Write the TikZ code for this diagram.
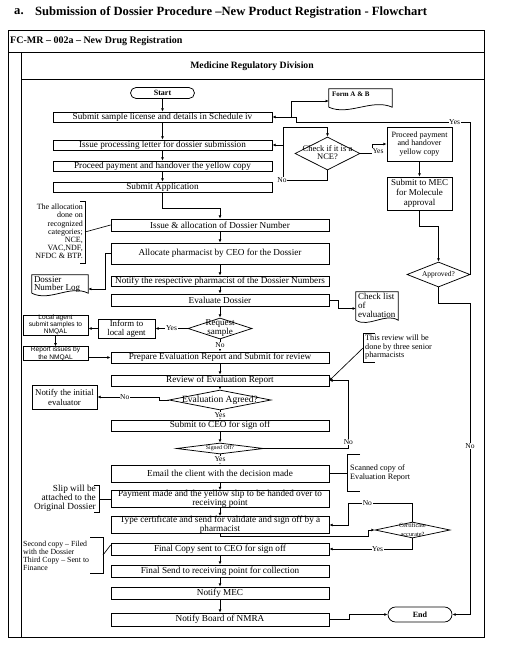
\documentclass[tikz,border=0pt]{standalone}
\usepackage{fontspec}
\setmainfont{Liberation Serif}
\newfontfamily\arialf{Liberation Sans}
\usetikzlibrary{shapes.geometric,shapes.misc,arrows.meta}
\newcommand\fs[2]{\fontsize{#1}{#2}\selectfont}
\newcommand\dtext[2]{\makebox[0pt]{#1\raisebox{-0.25em}[0pt][0pt]{\begin{tabular}{@{}c@{}}#2\end{tabular}}}}
\begin{document}
\begin{tikzpicture}[x=1pt,y=-1pt,
  line/.style={line width=0.75pt, black},
  frame/.style={line width=0.9pt, black},
  arr/.style={line width=0.65pt, black, -{Latex[length=3.2pt,width=2.8pt]}},
  conn/.style={line width=0.65pt, black},
  box/.style={draw, line width=0.75pt, inner sep=0pt, align=center, font=\fs{9.2}{8.6}},
  ubox/.style={box, minimum width=219pt},
  lbox/.style={box, minimum width=218pt},
  term/.style={draw, rounded rectangle, line width=0.75pt, inner sep=0pt, font=\bfseries\fs{8}{9}},
  dia/.style={draw, diamond, line width=0.75pt, inner sep=0pt},
  docbox/.style={inner sep=0pt},
  lbl/.style={fill=white, inner sep=0.6pt, font=\fs{7.5}{8}},
  note/.style={inner sep=0pt, font=\fs{8.2}{8.5}}
]
\useasboundingbox (0,0) rectangle (516,653);
% title and frames
\node[anchor=west, inner sep=0pt, font=\bfseries\fs{12.6}{14}] (ta) at (14,12) {a.};
\node[anchor=west, inner sep=0pt, font=\bfseries\fs{12.6}{14}] (title) at (35,12) {Submission of Dossier Procedure –New Product Registration - Flowchart};
\draw[frame] (8,30) rectangle (484,637);
\draw[frame] (8,52) -- (484,52);
\draw[frame] (21,52) -- (21,637);
\draw[frame] (21,79) -- (484,79);
\node[anchor=west, inner sep=0pt, font=\bfseries\fs{10}{11}] (hdr) at (10,41) {FC-MR – 002a – New Drug Registration};
\node[inner sep=0pt, font=\bfseries\fs{9.7}{11}] (div) at (252,66) {Medicine Regulatory Division};

% main column, upper
\node[term, minimum width=64pt, minimum height=11pt] (start) at (162.5,93) {Start};
\node[ubox, minimum height=10pt] (b1) at (162.5,117) {Submit sample license and details in Schedule iv};
\node[ubox, minimum height=10pt] (b2) at (162.5,145) {Issue processing letter for dossier submission};
\node[ubox, minimum height=10pt] (b3) at (162.5,166) {Proceed payment and handover the yellow copy};
\node[ubox, minimum height=10pt] (b4) at (162.5,187) {Submit Application};

% main column, lower
\node[lbox, minimum height=12pt] (issue) at (220,225) {Issue \& allocation of Dossier Number};
\node[lbox, minimum height=21pt] (alloc) at (220,253.5) {Allocate pharmacist by CEO for the Dossier};
\node[lbox, minimum height=10pt] (notify) at (220,281) {Notify the respective pharmacist of the Dossier Numbers};
\node[lbox, minimum height=12pt] (evaluate) at (220,300) {Evaluate Dossier};
\node[dia, minimum width=64pt, minimum height=21pt] (request) at (220,328.5) {\dtext{\fs{9}{9}}{Request\\sample}};
\node[lbox, minimum height=11pt] (prepare) at (220,357.5) {Prepare Evaluation Report and Submit for review};
\node[lbox, minimum height=11pt] (review) at (220,380.5) {Review of Evaluation Report};
\node[dia, minimum width=102pt, minimum height=20pt] (agreed) at (220,400) {\dtext{\fs{9.5}{10}}{Evaluation Agreed?}};
\node[lbox, minimum height=11pt] (ceo) at (220,425.5) {Submit to CEO for sign off};
\node[dia, minimum width=87pt, minimum height=11pt] (signed) at (220,448.5) {\dtext{\fs{5.8}{6}}{Signed Off?}};
\node[lbox, minimum height=17pt] (email) at (220,473.5) {Email the client with the decision made};
\node[lbox, minimum height=16pt] (payment) at (220,499) {Payment made and the yellow slip to be handed over to\\receiving point};
\node[lbox, minimum height=16pt] (typecert) at (220,525) {Type certificate and send for validate and sign off by a\\pharmacist};
\node[lbox, minimum height=12pt] (finalcopy) at (220,549) {Final Copy sent to CEO for sign off};
\node[lbox, minimum height=12pt] (finalsend) at (220,571) {Final Send to receiving point for collection};
\node[lbox, minimum height=12pt] (mec) at (220,593) {Notify MEC};
\node[lbox, minimum height=13pt] (board) at (220,619.5) {Notify Board of NMRA};
\node[term, minimum width=64pt, minimum height=15pt] (end) at (420,614.5) {End};

% right side
\node[dia, minimum width=65pt, minimum height=33pt] (nce) at (327.5,153.5) {\dtext{\fs{8.5}{8.5}}{Check if it is a\\NCE?}};
\node[box, minimum width=65pt, minimum height=34pt, font=\fs{8.1}{8.5}] (pp) at (419.5,144) {Proceed payment\\and handover\\yellow copy};
\node[box, minimum width=65pt, minimum height=33pt, font=\fs{9}{10}] (smec) at (419.5,193.5) {Submit to MEC\\for Molecule\\approval};
\node[dia, minimum width=63pt, minimum height=25pt] (approved) at (438.5,274.5) {\dtext{\fs{7.4}{8}}{Approved?}};
\node[dia, minimum width=75pt, minimum height=16pt] (cert) at (412.5,530) {\dtext{\fs{6.3}{8.5}}{Certificate\\accurate?}};

% documents
\node[docbox, minimum width=63pt, minimum height=18pt,
  label={[anchor=north west, inner sep=0pt, xshift=3pt, yshift=-3pt, font=\bfseries\fs{7}{8}]north west:Form A \& B}] (forma) at (360.5,98) {};
\draw[line] (forma.south west) -- (forma.north west) -- (forma.north east) -- (forma.south east) .. controls +(-20,-9) and +(20,9) .. (forma.south west);
\node[docbox, minimum width=56pt, minimum height=18pt,
  label={[anchor=north west, inner sep=0pt, xshift=2pt, yshift=-1.5pt, align=left, font=\fs{9}{8.2}]north west:Dossier\\Number Log}] (dlog) at (60,284) {};
\draw[line] (dlog.south west) -- (dlog.north west) -- (dlog.north east) -- (dlog.south east) .. controls +(-18,-9) and +(18,9) .. (dlog.south west);
\node[docbox, minimum width=42pt, minimum height=28pt,
  label={[anchor=north west, inner sep=0pt, xshift=2pt, yshift=-1pt, align=left, font=\fs{9}{9}]north west:Check list\\of\\evaluation}] (check) at (377,306) {};
\draw[line] (check.south west) -- (check.north west) -- (check.north east) -- (check.south east) .. controls +(-13,-8) and +(13,8) .. (check.south west);

% left side boxes
\node[box, minimum width=57pt, minimum height=19pt, font=\fs{8.8}{9}] (inform) at (126.5,328.5) {Inform to\\local agent};
\node[box, minimum width=65pt, minimum height=16pt, font=\arialf\fs{6.6}{7}] (lagent) at (55.5,325) {Local agent\\submit samples to\\NMQAL};
\node[box, minimum width=65pt, minimum height=13pt, font=\arialf\fs{6.6}{7.5}] (report) at (55.5,353.5) {Report issues by\\the NMQAL};
\node[box, minimum width=65pt, minimum height=24pt, font=\fs{8.8}{10}] (initial) at (64.5,397) {Notify the initial\\evaluator};

% notes
\node[note, anchor=east, align=right, font=\fs{8}{8.2}] (allocnote) at (83,231.5) {The allocation\\done on\\recognized\\categories;\\NCE,\\VAC,NDF,\\NFDC \& BTP.};
\draw[conn] (80,201) -- (85,201) -- (85,263) -- (80,263);
\coordinate (allocbr) at (85,232);
\draw[conn] (allocbr) -- (issue.west);

\node[note, anchor=west, align=left] (revnote) at (365,347.5) {This review will be\\done by three senior\\pharmacists};
\draw[conn] (375,333) -- (363,333) -- (363,362) -- (375,362);
\coordinate (revbr) at (363,348);
\draw[arr] (revbr) -- (review.east);

\node[note, anchor=west, align=left, font=\fs{8.2}{9}] (scannote) at (350,472.5) {Scanned copy of\\Evaluation Report};
\draw[conn] (360,454) -- (347,454) -- (347,491) -- (360,491);
\coordinate (scanbr) at (347,473.5);
\draw[conn] (email.east) -- (scanbr);

\node[note, anchor=east, align=right, font=\fs{9.3}{8.3}] (slipnote) at (96,498) {Slip will be\\attached to the\\Original Dossier};
\draw[conn] (94,485) -- (99,485) -- (99,512) -- (94,512);
\coordinate (slipbr) at (99,499);
\draw[conn] (slipbr) -- (payment.west);

\node[note, anchor=west, align=left, font=\fs{7.8}{8}] (copynote) at (23,556) {Second copy – Filed\\with the Dossier\\Third Copy – Sent to\\Finance};
\draw[conn] (90,537) -- (103,537) -- (103,573) -- (90,573);
\coordinate (copybr) at (103,555);
\draw[conn] (copybr) -- ([yshift=4pt]finalcopy.west);

% main flow connectors
\draw[arr] (start) -- (b1);
\draw[arr] (b1) -- (b2);
\draw[arr] (b2) -- (b3);
\draw[arr] (b3) -- (b4);
\draw[arr] (b4.south) -- ++(0,16) -| (issue.north);
\draw[arr] (issue) -- (alloc);
\draw[arr] (alloc) -- (notify);
\draw[arr] (notify) -- (evaluate);
\draw[arr] (evaluate) -- (request);
\draw[arr] (request) -- node[lbl]{No} (prepare);
\draw[arr] (prepare) -- (review);
\draw[arr] (review) -- (agreed);
\draw[arr] (agreed) -- node[lbl]{Yes} (ceo);
\draw[arr] (ceo) -- (signed);
\draw[arr] (signed) -- node[lbl]{Yes} (email);
\draw[arr] (email) -- (payment);
\draw[arr] (payment) -- (typecert);
\draw[arr] (finalcopy) -- (finalsend);
\draw[arr] (finalsend) -- (mec);
\draw[arr] (mec) -- (board);

% side connectors
\draw[arr] (request.west) -- node[lbl]{Yes} (inform.east);
\draw[arr] (inform.west) -- (inform.west -| lagent.east);
\draw[arr] (lagent) -- (report);
\draw[arr] (report.east |- prepare.west) -- (prepare.west);
\draw[arr] (agreed.west) -- ++(-9,0) |- node[lbl, pos=0.78]{No} (initial.east);
\draw[arr] (signed.east) -| node[lbl, pos=0.55]{No} ([xshift=19pt]review.east) -- (review.east);
\draw[arr] (alloc.west) -- ++(-5,0) |- ([yshift=-5pt]dlog.east);
\draw[arr] (evaluate.east) -- ++(9,0) |- ([yshift=-2.5pt]check.west);

% NCE loop
\draw[arr] (nce.south) |- (283,180) -- (283,127) -| (nce.north);
\node[lbl] (nceno) at (282,180) {No};
\coordinate (ncebranch) at (283,145);
\draw[arr] (ncebranch) -- (b2.east);
\node[lbl, inner sep=0.3pt] (nceyes) at (378,151) {Yes};
\draw[conn] (nce.east) -- (nceyes.west |- nce.east);
\draw[arr] (nceyes.north west) |- (pp.west);
\draw[arr] (pp) -- (smec);
\draw[arr] (smec.south) -- ++(0,16) -| (approved.north);

% Approved branches
\draw[arr] (approved.east) |- node[lbl, pos=0.545]{Yes} (296,122) -- (296,117) -- (b1.east);
\coordinate (formbranch) at (291,117);
\draw[arr] (formbranch) |- ([yshift=-3pt]forma.west);
\draw[arr] (approved.south) -- ++(0,15.5) -| node[lbl, pos=0.73]{No} (470,614.5) -- (end.east);

% certificate
\draw[arr] (typecert.south) -- ++(0,2) -| ([xshift=-6pt]cert.west) -- (cert.west);
\draw[arr] (cert.north) |- node[lbl, pos=0.85]{No} (348,503) |- (typecert.east);
\draw[arr] (cert.south) |- node[lbl, pos=0.71]{Yes} (finalcopy.east);
\draw[arr] (board.east) -- ++(20,0) |- (end.west);
\end{tikzpicture}
\end{document}
